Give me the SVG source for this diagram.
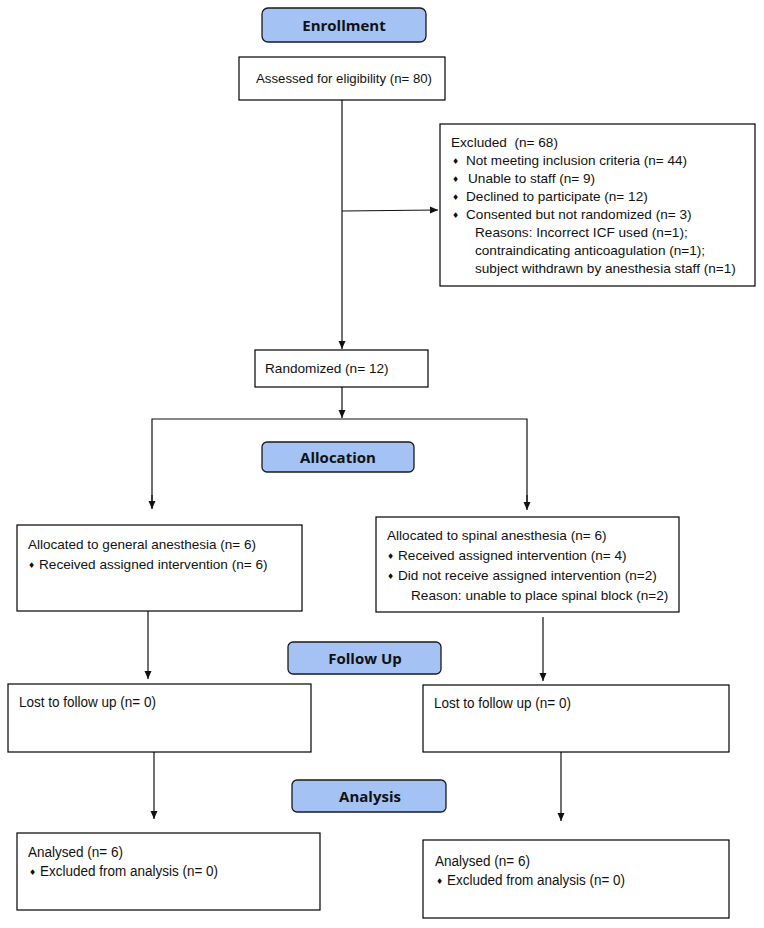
<svg xmlns="http://www.w3.org/2000/svg" width="764" height="928" viewBox="0 0 764 928">
<style>
.box{fill:#fff;stroke:#000;stroke-width:1.2}
.hdr{fill:#a4c2f4;stroke:#1a1a1a;stroke-width:1.3}
.ht{font-family:"Open Sans","Noto Sans",sans-serif;font-weight:bold;font-size:15px;fill:#111;text-anchor:middle}
.t{font-family:"Liberation Sans",Arial,sans-serif;font-size:13.6px;fill:#111;white-space:pre}
.n{font-family:"Liberation Sans",Arial,sans-serif;font-size:14px;fill:#111}
.b{font-family:"DejaVu Sans",sans-serif;font-size:8px;fill:#111}
.ln{stroke:#111;stroke-width:1.2;fill:none}
</style>
<defs>
<marker id="ah" markerWidth="8" markerHeight="8" refX="8" refY="4" orient="auto" markerUnits="userSpaceOnUse">
<path d="M0,0.5 L8,4 L0,7.5 Z" fill="#111"/>
</marker>
</defs>
<g id="connectors">
<line class="ln" x1="342" y1="100" x2="342" y2="349" marker-end="url(#ah)"/>
<line class="ln" x1="342" y1="211" x2="438" y2="210" marker-end="url(#ah)"/>
<line class="ln" x1="342" y1="387" x2="342" y2="418" marker-end="url(#ah)"/>
<polyline class="ln" points="152,508 152,419 527,419 527,508"/>
<line class="ln" x1="152" y1="495" x2="152" y2="509" marker-end="url(#ah)"/>
<line class="ln" x1="527" y1="495" x2="527" y2="510" marker-end="url(#ah)"/>
<line class="ln" x1="148" y1="611" x2="148" y2="679" marker-end="url(#ah)"/>
<line class="ln" x1="543" y1="617" x2="543" y2="681" marker-end="url(#ah)"/>
<line class="ln" x1="154" y1="752" x2="154" y2="819" marker-end="url(#ah)"/>
<line class="ln" x1="561" y1="752" x2="561" y2="821" marker-end="url(#ah)"/>
</g>
<g id="enrollment">
<rect class="hdr" x="262" y="8" width="164" height="34" rx="6"/>
<text class="ht" x="344" y="31">Enrollment</text>
</g>
<g id="assessed">
<rect class="box" x="239" y="57" width="206" height="43"/>
<text class="t" x="256" y="83" textLength="176" lengthAdjust="spacingAndGlyphs">Assessed for eligibility (n= 80)</text>
</g>
<g id="excluded">
<rect class="box" x="440" y="124" width="315" height="162"/>
<text class="t" x="451" y="147">Excluded  (n= 68)</text>
<text class="b" x="452" y="164">♦</text>
<text class="t" x="466" y="165" textLength="221" lengthAdjust="spacingAndGlyphs">Not meeting inclusion criteria (n= 44)</text>
<text class="b" x="452" y="182">♦</text>
<text class="t" x="468" y="183">Unable to staff (n= 9)</text>
<text class="b" x="452" y="200">♦</text>
<text class="t" x="466" y="201">Declined to participate (n= 12)</text>
<text class="b" x="452" y="218">♦</text>
<text class="t" x="466" y="219">Consented but not randomized (n= 3)</text>
<text class="t" x="475" y="237">Reasons: Incorrect ICF used (n=1);</text>
<text class="t" x="475" y="255">contraindicating anticoagulation (n=1);</text>
<text class="t" x="475" y="273">subject withdrawn by anesthesia staff (n=1)</text>
</g>
<g id="randomized">
<rect class="box" x="255" y="350" width="173" height="37"/>
<text class="t" x="265" y="373">Randomized (n= 12)</text>
</g>
<g id="allocation">
<rect class="hdr" x="262" y="442" width="152" height="30" rx="5"/>
<text class="ht" x="338" y="463">Allocation</text>
</g>
<g id="alloc-general">
<rect class="box" x="17" y="525" width="285" height="86"/>
<text class="t" x="28" y="549" textLength="228" lengthAdjust="spacingAndGlyphs">Allocated to general anesthesia (n= 6)</text>
<text class="b" x="28" y="568">♦</text>
<text class="t" x="39" y="569">Received assigned intervention (n= 6)</text>
</g>
<g id="alloc-spinal">
<rect class="box" x="376" y="517" width="303" height="95"/>
<text class="t" x="387" y="540">Allocated to spinal anesthesia (n= 6)</text>
<text class="b" x="387" y="559">♦</text>
<text class="t" x="398" y="560">Received assigned intervention (n= 4)</text>
<text class="b" x="387" y="579">♦</text>
<text class="t" x="398" y="580">Did not receive assigned intervention (n=2)</text>
<text class="t" x="411" y="600">Reason: unable to place spinal block (n=2)</text>
</g>
<g id="followup">
<rect class="hdr" x="288" y="642" width="153" height="32" rx="5"/>
<text class="ht" x="365" y="664">Follow Up</text>
</g>
<g id="lost-left">
<rect class="box" x="8" y="684" width="303" height="68"/>
<text class="n" x="19" y="707" textLength="137" lengthAdjust="spacingAndGlyphs">Lost to follow up (n= 0)</text>
</g>
<g id="lost-right">
<rect class="box" x="423" y="685" width="306" height="67"/>
<text class="n" x="434" y="708" textLength="137" lengthAdjust="spacingAndGlyphs">Lost to follow up (n= 0)</text>
</g>
<g id="analysis">
<rect class="hdr" x="292" y="780" width="154" height="32" rx="5"/>
<text class="ht" x="370" y="802">Analysis</text>
</g>
<g id="analysed-left">
<rect class="box" x="17" y="833" width="303" height="77"/>
<text class="n" x="28" y="857" textLength="95" lengthAdjust="spacingAndGlyphs">Analysed (n= 6)</text>
<text class="b" x="29" y="875">♦</text>
<text class="n" x="40" y="876" textLength="178" lengthAdjust="spacingAndGlyphs">Excluded from analysis (n= 0)</text>
</g>
<g id="analysed-right">
<rect class="box" x="423" y="840" width="306" height="78"/>
<text class="n" x="435" y="866" textLength="95" lengthAdjust="spacingAndGlyphs">Analysed (n= 6)</text>
<text class="b" x="436" y="884">♦</text>
<text class="n" x="447" y="885" textLength="178" lengthAdjust="spacingAndGlyphs">Excluded from analysis (n= 0)</text>
</g>
</svg>
